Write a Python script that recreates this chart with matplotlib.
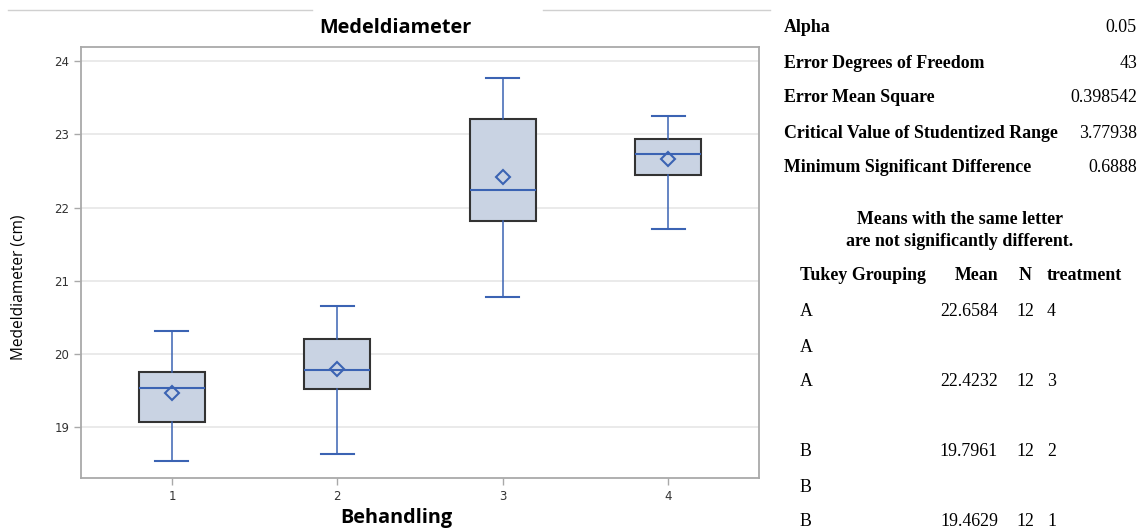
import matplotlib
matplotlib.use("Agg")
import matplotlib.pyplot as plt
from matplotlib.lines import Line2D

# ---- data ----
treatments = ["1", "2", "3", "4"]
whisker_low = [18.54, 18.64, 20.78, 21.71]
q1 = [19.08, 19.53, 21.82, 22.44]
median = [19.54, 19.78, 22.24, 22.73]
q3 = [19.76, 20.20, 23.21, 22.94]
whisker_high = [20.32, 20.66, 23.77, 23.25]
means = [19.4629, 19.7961, 22.4232, 22.6584]

stats_labels = ["Alpha", "Error Degrees of Freedom", "Error Mean Square",
                "Critical Value of Studentized Range", "Minimum Significant Difference"]
stats_values = ["0.05", "43", "0.398542", "3.77938", "0.6888"]

tukey_group = ["A", "A", "A", "", "B", "B", "B"]
tukey_mean = ["22.6584", "", "22.4232", "", "19.7961", "", "19.4629"]
tukey_n = ["12", "", "12", "", "12", "", "12"]
tukey_trt = ["4", "", "3", "", "2", "", "1"]

W, H = 1141, 530
fig = plt.figure(figsize=(W / 100, H / 100), dpi=100)

def fx(px):
    return px / W

def fy(py):
    return 1 - py / H

ax = fig.add_axes([fx(81), fy(478), fx(759 - 81), (478 - 47) / H])

box_color = "#C9D3E3"
blue = "#3B63B3"
edge = "#333333"

bxpstats = []
for i in range(len(treatments)):
    bxpstats.append(dict(whislo=whisker_low[i], q1=q1[i], med=median[i], q3=q3[i],
                         whishi=whisker_high[i], mean=means[i], fliers=[], label=treatments[i]))

positions = list(range(1, len(treatments) + 1))
ax.bxp(bxpstats, positions=positions, widths=0.4, patch_artist=True, showmeans=True,
       showfliers=False,
       boxprops=dict(facecolor=box_color, edgecolor=edge, linewidth=1.5),
       whiskerprops=dict(color=blue, linewidth=1.1),
       capprops=dict(color=blue, linewidth=1.5),
       medianprops=dict(color=blue, linewidth=1.5),
       meanprops=dict(marker="D", markerfacecolor="none", markeredgecolor=blue,
                      markersize=7.5, markeredgewidth=1.5),
       capwidths=0.2, zorder=3)

ax.set_xlim(0.45, 4.55)
ax.set_ylim(18.31, 24.19)
ax.set_yticks([19, 20, 21, 22, 23, 24])
ax.yaxis.grid(True, color="#E6E6E6", linewidth=1.2, zorder=0)
ax.set_axisbelow(True)
for s in ax.spines.values():
    s.set_color("#A9A9A9")
    s.set_linewidth(1.3)
ax.tick_params(axis="both", colors="#A9A9A9", labelcolor="#333333", labelsize=8.5,
               length=5, width=1)
ax.set_xticks(positions)
ax.set_xticklabels(treatments)

fig.text(fx(395), fy(28), "Medeldiameter", ha="center", va="center",
         fontsize=14.3, fontweight="bold", family="Open Sans")
fig.text(fx(396), fy(518), "Behandling", ha="center", va="center",
         fontsize=14.3, fontweight="bold", family="Open Sans")
fig.text(fx(19), fy(287), "Medeldiameter (cm)", ha="center", va="center",
         rotation=90, fontsize=11.2, family="Open Sans")

# screenshot separator lines at top
fig.add_artist(Line2D([fx(8), fx(312)], [fy(10), fy(10)], color="#D0D0D0", lw=1))
fig.add_artist(Line2D([fx(543), fx(770)], [fy(10), fy(10)], color="#D0D0D0", lw=1))

serif = "Liberation Serif"
fs = 12.9
row_y = [28, 63, 98, 133, 168]
for lab, val, y in zip(stats_labels, stats_values, row_y):
    fig.text(fx(784), fy(y), lab, ha="left", va="center", fontsize=fs,
             fontweight="bold", family=serif)
    fig.text(fx(1137), fy(y), val, ha="right", va="center", fontsize=fs, family=serif)

fig.text(fx(960), fy(220), "Means with the same letter", ha="center", va="center",
         fontsize=fs, fontweight="bold", family=serif)
fig.text(fx(960), fy(241), "are not significantly different.", ha="center", va="center",
         fontsize=fs, fontweight="bold", family=serif)

hy = 276
fig.text(fx(800), fy(hy), "Tukey Grouping", ha="left", va="center", fontsize=fs,
         fontweight="bold", family=serif)
fig.text(fx(998), fy(hy), "Mean", ha="right", va="center", fontsize=fs,
         fontweight="bold", family=serif)
fig.text(fx(1025), fy(hy), "N", ha="center", va="center", fontsize=fs,
         fontweight="bold", family=serif)
fig.text(fx(1047), fy(hy), "treatment", ha="left", va="center", fontsize=fs,
         fontweight="bold", family=serif)

trow_y = [312, 347, 382, 417, 452, 487, 521]
for g, m, n, t, y in zip(tukey_group, tukey_mean, tukey_n, tukey_trt, trow_y):
    fig.text(fx(800), fy(y), g, ha="left", va="center", fontsize=fs, family=serif)
    fig.text(fx(998), fy(y), m, ha="right", va="center", fontsize=fs, family=serif)
    fig.text(fx(1025), fy(y), n, ha="center", va="center", fontsize=fs, family=serif)
    fig.text(fx(1047), fy(y), t, ha="left", va="center", fontsize=fs, family=serif)

fig.savefig("out.png", dpi=100)
